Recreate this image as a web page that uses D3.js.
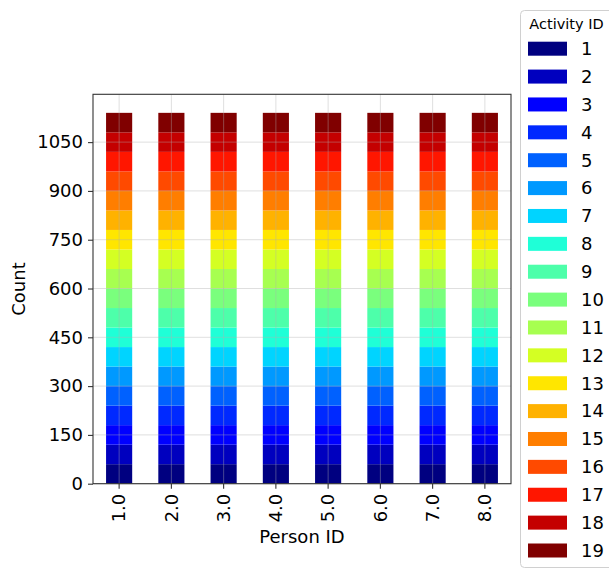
<!DOCTYPE html>
<html>
<head>
<meta charset="utf-8">
<script src="https://cdn.jsdelivr.net/npm/d3@7"></script>
<style>
  body { margin: 0; background: #fff; }
  text { font-family: "DejaVu Sans", sans-serif; fill: #000; }
</style>
</head>
<body>
<div id="chart"></div>
<script>
// data
const persons = ["1.0", "2.0", "3.0", "4.0", "5.0", "6.0", "7.0", "8.0"];
const activities = [1, 2, 3, 4, 5, 6, 7, 8, 9, 10, 11, 12, 13, 14, 15, 16, 17, 18, 19];
// count per activity, same for every person
const person1 = [60, 60, 60, 60, 60, 60, 60, 60, 60, 60, 60, 60, 60, 60, 60, 60, 60, 60, 60];
const person2 = [60, 60, 60, 60, 60, 60, 60, 60, 60, 60, 60, 60, 60, 60, 60, 60, 60, 60, 60];
const person3 = [60, 60, 60, 60, 60, 60, 60, 60, 60, 60, 60, 60, 60, 60, 60, 60, 60, 60, 60];
const person4 = [60, 60, 60, 60, 60, 60, 60, 60, 60, 60, 60, 60, 60, 60, 60, 60, 60, 60, 60];
const person5 = [60, 60, 60, 60, 60, 60, 60, 60, 60, 60, 60, 60, 60, 60, 60, 60, 60, 60, 60];
const person6 = [60, 60, 60, 60, 60, 60, 60, 60, 60, 60, 60, 60, 60, 60, 60, 60, 60, 60, 60];
const person7 = [60, 60, 60, 60, 60, 60, 60, 60, 60, 60, 60, 60, 60, 60, 60, 60, 60, 60, 60];
const person8 = [60, 60, 60, 60, 60, 60, 60, 60, 60, 60, 60, 60, 60, 60, 60, 60, 60, 60, 60];
const counts = [person1, person2, person3, person4, person5, person6, person7, person8];
const yTicks = [0, 150, 300, 450, 600, 750, 900, 1050];

// matplotlib "jet"
function jet(t) {
  const seg = (pts) => {
    for (let i = 1; i < pts.length; i++) {
      if (t <= pts[i][0]) {
        const [x0, y0] = pts[i - 1], [x1, y1] = pts[i];
        return y0 + (y1 - y0) * (t - x0) / (x1 - x0);
      }
    }
    return pts[pts.length - 1][1];
  };
  const r = seg([[0, 0], [0.35, 0], [0.66, 1], [0.89, 1], [1, 0.5]]);
  const g = seg([[0, 0], [0.125, 0], [0.375, 1], [0.64, 1], [0.91, 0], [1, 0]]);
  const b = seg([[0, 0.5], [0.11, 1], [0.34, 1], [0.65, 0], [1, 0]]);
  return d3.rgb(r * 255, g * 255, b * 255).formatHex();
}
const color = d3.scaleOrdinal().domain(activities)
  .range(activities.map((d, i) => jet(Math.floor(i / (activities.length - 1) * 255) / 255)));

const W = 609, H = 570;
const mLeft = 93, mRight = 511, mTop = 94.3, mBottom = 483.7;
const fs = "18px";

const svg = d3.select("#chart").append("svg")
  .attr("width", W).attr("height", H);

// stack rows
const rows = persons.map((p, i) => {
  const o = { person: p };
  activities.forEach((a, j) => o[a] = counts[i][j]);
  return o;
});
const stacked = d3.stack().keys(activities)(rows);
const total = d3.max(rows, r => d3.sum(activities, a => r[a]));

const x = d3.scaleBand().domain(persons).range([mLeft, mRight])
  .paddingInner(0.5).paddingOuter(0.25);
const y = d3.scaleLinear().domain([0, total * 1.05]).range([mBottom, mTop]);

// bars
svg.append("g").selectAll("g").data(stacked).join("g")
  .attr("fill", d => color(d.key))
  .selectAll("rect").data(d => d).join("rect")
    .attr("x", d => x(d.data.person))
    .attr("width", x.bandwidth())
    .attr("y", d => y(d[1]))
    .attr("height", d => y(d[0]) - y(d[1]));

// grid on top of bars
const grid = svg.append("g").attr("stroke", "#b0b0b0").attr("stroke-opacity", 0.4).attr("stroke-width", 1);
grid.selectAll(".gy").data(yTicks).join("line")
  .attr("x1", mLeft).attr("x2", mRight)
  .attr("y1", d => y(d)).attr("y2", d => y(d));
grid.selectAll(".gx").data(persons).join("line")
  .attr("x1", d => x(d) + x.bandwidth() / 2).attr("x2", d => x(d) + x.bandwidth() / 2)
  .attr("y1", mTop).attr("y2", mBottom);

// frame
svg.append("rect")
  .attr("x", mLeft).attr("y", mTop)
  .attr("width", mRight - mLeft).attr("height", mBottom - mTop)
  .attr("fill", "none").attr("stroke", "#333").attr("stroke-width", 1.1);

// axes
const yAxis = svg.append("g").attr("transform", `translate(${mLeft},0)`)
  .call(d3.axisLeft(y).tickValues(yTicks).tickFormat(d3.format("d")).tickSize(5).tickPadding(5));
const xAxis = svg.append("g").attr("transform", `translate(0,${mBottom})`)
  .call(d3.axisBottom(x).tickSize(5).tickPadding(5));
[xAxis, yAxis].forEach(a => {
  a.select(".domain").remove();
  a.selectAll(".tick line").attr("stroke", "#333").attr("stroke-width", 1.1);
  a.selectAll("text").style("font-size", fs).style("font-family", "DejaVu Sans");
});
xAxis.selectAll("text")
  .attr("transform", "rotate(-90)")
  .attr("text-anchor", "end")
  .attr("x", -10).attr("y", 0).attr("dy", "0.35em");

// axis labels
svg.append("text")
  .attr("x", (mLeft + mRight) / 2).attr("y", 543)
  .attr("text-anchor", "middle").style("font-size", fs)
  .text("Person ID");
svg.append("text")
  .attr("transform", `translate(25,${(mTop + mBottom) / 2}) rotate(-90)`)
  .attr("text-anchor", "middle").style("font-size", fs)
  .text("Count");

// legend
const lg = svg.append("g");
lg.append("rect")
  .attr("x", 520.5).attr("y", 10.5).attr("width", 100).attr("height", 557)
  .attr("rx", 4).attr("fill", "#fff").attr("stroke", "#d0d0d0");
lg.append("text")
  .attr("x", 566.5).attr("y", 29)
  .attr("text-anchor", "middle").style("font-size", "14.5px")
  .text("Activity ID");
const ly = d3.scalePoint().domain(activities).range([48.7, 550.5]);
const item = lg.selectAll(".item").data(activities).join("g")
  .attr("transform", d => `translate(0,${ly(d)})`);
item.append("rect")
  .attr("x", 528).attr("y", -7).attr("width", 39).attr("height", 14)
  .attr("fill", d => color(d));
item.append("text")
  .attr("x", 581).attr("y", 0).attr("dy", "0.35em")
  .style("font-size", fs)
  .text(d => d);
</script>
</body>
</html>
